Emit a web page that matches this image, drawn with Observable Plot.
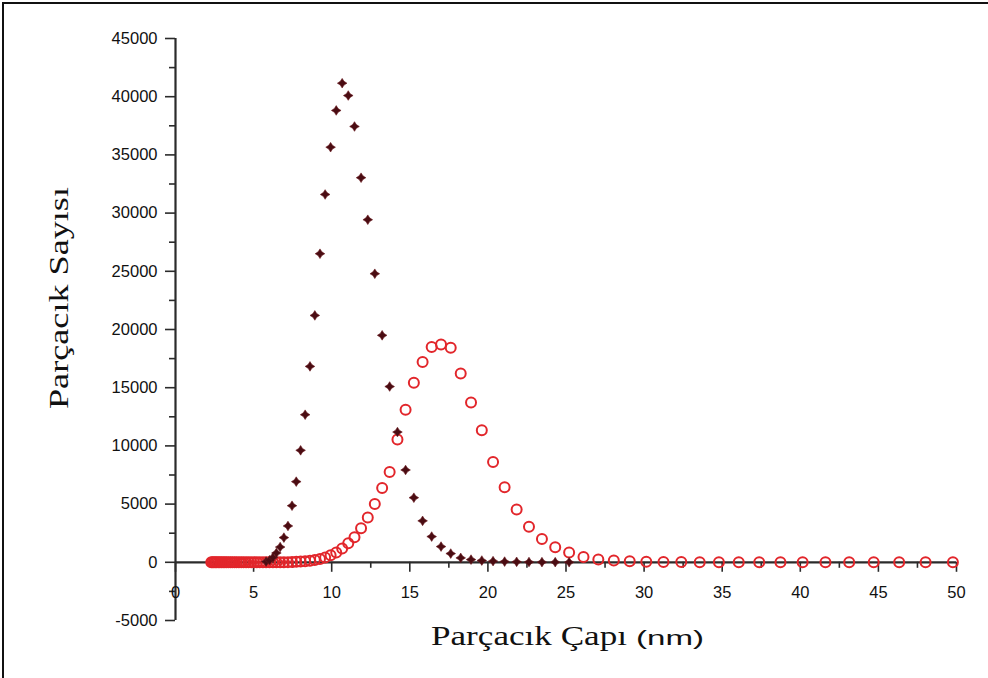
<!DOCTYPE html>
<html>
<head>
<meta charset="utf-8">
<script src="https://cdn.jsdelivr.net/npm/d3@7"></script>
<script src="https://cdn.jsdelivr.net/npm/@observablehq/plot@0.6"></script>
<style>
  html, body { margin: 0; padding: 0; background: #fff; }
  #wrap { position: relative; width: 988px; height: 678px; overflow: hidden; }
  #frame { position: absolute; left: 2px; top: 2px; width: 990px; height: 690px;
           border-top: 2px solid #111; border-left: 2px solid #111; pointer-events: none; }
</style>
</head>
<body>
<div id="wrap"><div id="chart"></div><div id="frame"></div></div>
<script>
// Particle diameter grid (nm), shared by both series
const diameters = [
  2.29, 2.37, 2.46, 2.55, 2.64, 2.74, 2.84, 2.94, 3.05, 3.16,
  3.27, 3.39, 3.52, 3.64, 3.78, 3.91, 4.06, 4.21, 4.36, 4.52,
  4.68, 4.85, 5.03, 5.21, 5.40, 5.60, 5.80, 6.02, 6.24, 6.46,
  6.70, 6.94, 7.20, 7.46, 7.73, 8.01, 8.30, 8.61, 8.92, 9.25,
  9.58, 9.93, 10.29, 10.67, 11.06, 11.46, 11.88, 12.31, 12.76, 13.23,
  13.71, 14.21, 14.73, 15.26, 15.82, 16.40, 17.00, 17.62, 18.26, 18.92,
  19.61, 20.33, 21.07, 21.84, 22.63, 23.46, 24.31, 25.20, 26.12, 27.07,
  28.06, 29.08, 30.14, 31.24, 32.38, 33.56, 34.79, 36.06, 37.37, 38.73,
  40.15, 41.61, 43.13, 44.70, 46.33, 48.02, 49.77
];
// Dark series (filled star markers); null = no marker
const darkCounts = [
  null, null, null, null, null, null, null, null, null, null,
  null, null, null, null, null, null, null, null, null, null,
  null, null, null, null, null, null, 60, 180, 420, 800,
  1310, 2120, 3120, 4860, 6930, 9620, 12680, 16830, 21210, 26510,
  31600, 35660, 38820, 41160, 40100, 37440, 33040, 29430, 24790, 19500,
  15100, 11190, 7930, 5550, 3560, 2210, 1350, 750, 380, 230,
  150, 100, 60, 40, 25, 15, 10, 5, null, null,
  null, null, null, null, null, null, null, null, null, null,
  null, null, null, null, null, null, null
];
// Red series (open circles)
const redCounts = [
  0, 0, 0, 0, 0, 0, 0, 0, 0, 0,
  0, 0, 0, 0, 0, 0, 0, 0, 0, 0,
  0, 0, 0, 0, 0, 0, 0, 0, 0, 0,
  0, 10, 15, 25, 40, 60, 90, 130, 190, 280,
  420, 600, 840, 1180, 1630, 2150, 2920, 3850, 5000, 6380,
  7760, 10540, 13110, 15430, 17200, 18490, 18720, 18440, 16210, 13720,
  11340, 8610, 6450, 4530, 3060, 2000, 1290, 850, 460, 240,
  150, 90, 50, 30, 20, 10, 0, 0, 0, 0,
  0, 0, 0, 0, 0, 0, 0
];
const yTicks = [-5000, 0, 5000, 10000, 15000, 20000, 25000, 30000, 35000, 40000, 45000];
const yMinorTicks = [-2500, 2500, 7500, 12500, 17500, 22500, 27500, 32500, 37500, 42500];
const xTicks = [0, 5, 10, 15, 20, 25, 30, 35, 40, 45, 50];
const xMinorTicks = [2.5, 7.5, 12.5, 17.5, 22.5, 27.5, 32.5, 37.5, 42.5, 47.5];
const yTitle = "Parçacık Sayısı";
const xTitle = "Parçacık Çapı";
const xUnit = "(nm)";

const darkData = diameters.map((d, i) => ({d, n: darkCounts[i]})).filter(o => o.n != null);
const redData = diameters.map((d, i) => ({d, n: redCounts[i]}));

const star4 = {
  draw(ctx, size) {
    const R = Math.sqrt(size) * 0.8, r0 = R * 0.55;
    for (let k = 0; k < 8; k++) {
      const a = k * Math.PI / 4 - Math.PI / 2;
      const rr = k % 2 === 0 ? R : r0;
      const px = rr * Math.cos(a), py = rr * Math.sin(a);
      if (k === 0) ctx.moveTo(px, py); else ctx.lineTo(px, py);
    }
    ctx.closePath();
  }
};

const axisColor = "#2b2b2b";
const chart = Plot.plot({
  width: 988, height: 678,
  marginLeft: 175, marginRight: 32, marginTop: 38, marginBottom: 58,
  x: {domain: [0, 50], axis: null},
  y: {domain: [-5000, 45000], axis: null},
  style: {background: "transparent", fontFamily: "'Liberation Sans', Arial, sans-serif", color: "#111"},
  marks: [
    Plot.ruleX([0], {stroke: axisColor, strokeWidth: 2.2}),
    Plot.ruleY([0], {stroke: axisColor, strokeWidth: 2.2}),
    Plot.axisY({ticks: yTicks, tickSize: 10, tickPadding: 8, tickFormat: d => String(d),
      fontSize: 16.5, stroke: axisColor, strokeWidth: 1.6, label: null}),
    Plot.axisY({ticks: yMinorTicks, tickSize: 6, tickFormat: () => "", stroke: axisColor, strokeWidth: 1.6, label: null}),
    Plot.ruleX(xTicks, {x: d => d, y1: 0, y2: 0, insetBottom: -10, stroke: axisColor, strokeWidth: 1.6}),
    Plot.ruleX(xMinorTicks, {x: d => d, y1: 0, y2: 0, insetBottom: -6, stroke: axisColor, strokeWidth: 1.6}),
    Plot.text(xTicks, {x: d => d, y: 0, dy: 30, text: d => String(d), fontSize: 16.5, fill: "#111"}),
    Plot.dot(redData, {x: "d", y: "n", r: 5, stroke: "#e2262b", strokeWidth: 2, fill: "none"}),
    Plot.dot(darkData, {x: "d", y: "n", symbol: star4, r: 3.4, fill: "#4a0c12", stroke: "#6a1a1e", strokeWidth: 0.6})
  ]
});
document.getElementById("chart").appendChild(chart);

const svg = d3.select(chart);
svg.append("text")
  .attr("transform", "translate(68,409) rotate(-90)")
  .attr("x", 0).attr("y", 0)
  .attr("text-anchor", "start")
  .attr("font-family", "'Liberation Serif', 'Times New Roman', serif")
  .attr("font-size", 28)
  .attr("fill", "#111")
  .attr("textLength", 222).attr("lengthAdjust", "spacingAndGlyphs")
  .text(yTitle);
svg.append("text")
  .attr("x", 431).attr("y", 645)
  .attr("text-anchor", "start")
  .attr("font-family", "'Liberation Serif', 'Times New Roman', serif")
  .attr("font-size", 28)
  .attr("fill", "#111")
  .attr("textLength", 196).attr("lengthAdjust", "spacingAndGlyphs")
  .text(xTitle);
svg.append("text")
  .attr("x", 636).attr("y", 645)
  .attr("text-anchor", "start")
  .attr("font-family", "'Liberation Sans', Arial, sans-serif")
  .attr("font-size", 21)
  .attr("fill", "#111")
  .attr("textLength", 68).attr("lengthAdjust", "spacingAndGlyphs")
  .text(xUnit);
</script>
</body>
</html>
